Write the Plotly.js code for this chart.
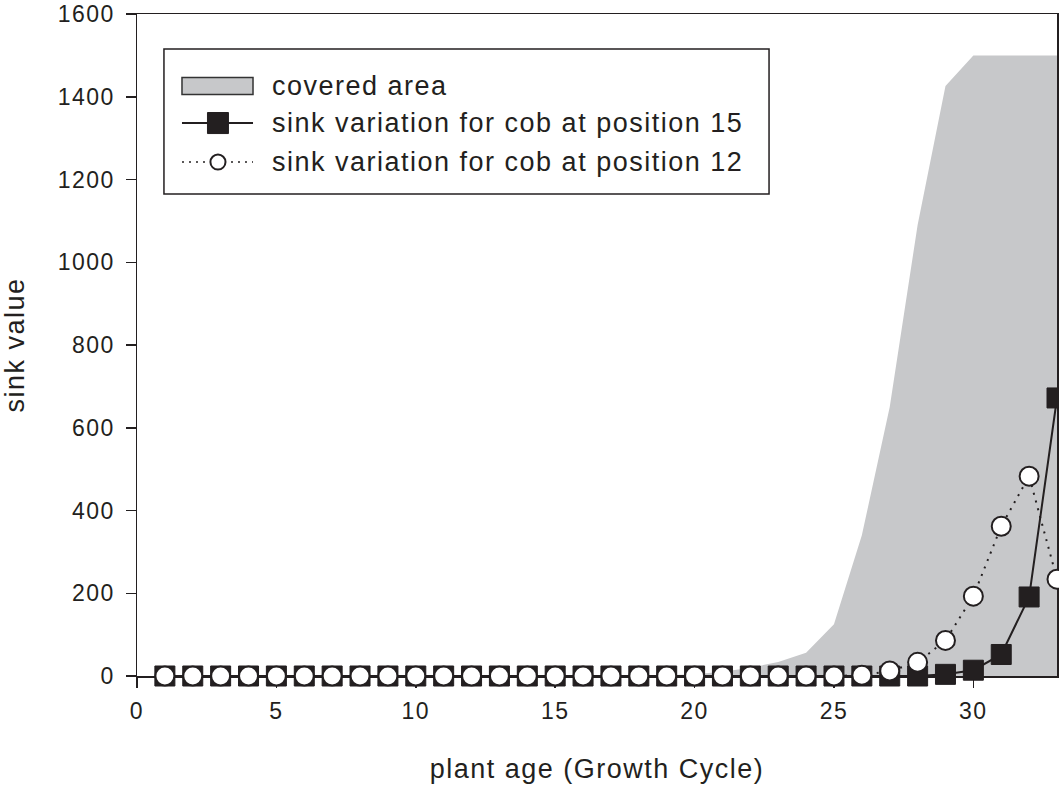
<!DOCTYPE html>
<html>
<head>
<meta charset="utf-8">
<script src="https://cdn.plot.ly/plotly-3.0.1.min.js"></script>
<style>
  html, body { margin: 0; padding: 0; background: #fff; }
  #chart { width: 1059px; height: 785px; }
  text { letter-spacing: 1.5px; }
</style>
</head>
<body>
<div id="chart"></div>
<script>
// plant age (growth cycle)
const age = [1,2,3,4,5,6,7,8,9,10,11,12,13,14,15,16,17,18,19,20,21,22,23,24,25,26,27,28,29,30,31,32,33];
// upper envelope of the covered area
const coveredArea = [0,0,0,0,0,0,0,0,0,0,0,0,0,0,0,0,0,0,2,4,10,20,34,56,125,340,650,1090,1426,1500,1500,1500,1500];
// sink variation for cob at position 15
const sink15 = [0,0,0,0,0,0,0,0,0,0,0,0,0,0,0,0,0,0,0,0,0,0,0,0,0,0,0,0,4,14,52,191,672];
// sink variation for cob at position 12
const sink12 = [0,0,0,0,0,0,0,0,0,0,0,0,0,0,0,0,0,0,0,0,0,0,0,0,0,2,12,33,86,193,362,483,234];

const legendLabels = ['covered area', 'sink variation for cob at position 15', 'sink variation for cob at position 12'];
const xTicks = [0,5,10,15,20,25,30];
const yTicks = [0,200,400,600,800,1000,1200,1400,1600];

const FONT = '"Liberation Sans", Arial, Helvetica, sans-serif';
const GRAY = '#c7c8ca';
const DARK = '#231f20';

const traces = [
  {
    x: age, y: coveredArea, name: legendLabels[0],
    type: 'scatter', mode: 'none', fill: 'tozeroy', fillcolor: GRAY,
    showlegend: false, hoverinfo: 'skip'
  },
  {
    x: age, y: sink15, name: legendLabels[1],
    type: 'scatter', mode: 'lines+markers', cliponaxis: false,
    line: { color: DARK, width: 2 },
    marker: { symbol: 'square', size: 20, color: DARK, line: { color: DARK, width: 1 } },
    showlegend: false
  },
  {
    x: age, y: sink12, name: legendLabels[2],
    type: 'scatter', mode: 'lines+markers', cliponaxis: false,
    line: { color: DARK, width: 2, dash: '2px,6px' },
    marker: { symbol: 'circle', size: 19, color: '#ffffff', line: { color: DARK, width: 2 } },
    showlegend: false
  }
];

// custom legend drawn in paper coordinates
const L = { x0: 0.0293, x1: 0.6870, y0: 0.7280, y1: 0.9471 };
const sx0 = 0.0489, sx1 = 0.1261, sxc = 0.0880;
const rowY = [0.8912, 0.8353, 0.7764];
const shapes = [
  { type: 'rect', xref: 'paper', yref: 'paper', x0: L.x0, x1: L.x1, y0: L.y0, y1: L.y1,
    line: { color: DARK, width: 1.5 }, fillcolor: '#ffffff', layer: 'above' },
  { type: 'rect', xref: 'paper', yref: 'paper', x0: sx0, x1: sx1, y0: rowY[0] - 0.0128, y1: rowY[0] + 0.0128,
    line: { color: '#333333', width: 1.5 }, fillcolor: GRAY, layer: 'above' },
  { type: 'line', xref: 'paper', yref: 'paper', x0: sx0, x1: sx1, y0: rowY[1], y1: rowY[1],
    line: { color: DARK, width: 2 }, layer: 'above' },
  { type: 'rect', xref: 'paper', yref: 'paper', x0: sxc - 0.0114, x1: sxc + 0.0114, y0: rowY[1] - 0.0159, y1: rowY[1] + 0.0159,
    line: { color: DARK, width: 1 }, fillcolor: DARK, layer: 'above' },
  { type: 'line', xref: 'paper', yref: 'paper', x0: sx0, x1: sx1, y0: rowY[2], y1: rowY[2],
    line: { color: DARK, width: 1.5, dash: '2px,5px' }, layer: 'above' },
  { type: 'circle', xref: 'paper', yref: 'paper', x0: sxc - 0.0082, x1: sxc + 0.0082, y0: rowY[2] - 0.0114, y1: rowY[2] + 0.0114,
    line: { color: DARK, width: 2 }, fillcolor: '#ffffff', layer: 'above' }
];
const annotations = legendLabels.map((t, i) => ({
  text: t, xref: 'paper', yref: 'paper', x: 0.1446, y: rowY[i],
  xanchor: 'left', yanchor: 'middle', showarrow: false,
  font: { family: FONT, size: 27, color: DARK }
}));

const axisCommon = {
  showgrid: false, zeroline: false, showline: true, mirror: true,
  linecolor: DARK, linewidth: 1.5, ticks: 'outside', tickcolor: DARK,
  tickwidth: 1.5, ticklen: 10, layer: 'below traces',
  tickfont: { family: FONT, size: 23, color: DARK }
};

const layout = {
  width: 1059, height: 785,
  margin: { l: 137, r: 2, t: 14, b: 109 },
  paper_bgcolor: '#ffffff', plot_bgcolor: '#ffffff',
  showlegend: false,
  xaxis: Object.assign({}, axisCommon, {
    range: [0, 33], tickvals: xTicks, ticktext: xTicks.map(String),
    ticklabelstandoff: 4,
    title: { text: 'plant age (Growth Cycle)', font: { family: FONT, size: 27, color: DARK }, standoff: 36 }
  }),
  yaxis: Object.assign({}, axisCommon, {
    range: [0, 1600], tickvals: yTicks, ticktext: yTicks.map(String),
    ticklabelstandoff: 6,
    title: { text: 'sink value', font: { family: FONT, size: 27, color: DARK }, standoff: 25 }
  }),
  shapes: shapes,
  annotations: annotations
};

Plotly.newPlot('chart', traces, layout, { displayModeBar: false, staticPlot: true });
</script>
</body>
</html>
